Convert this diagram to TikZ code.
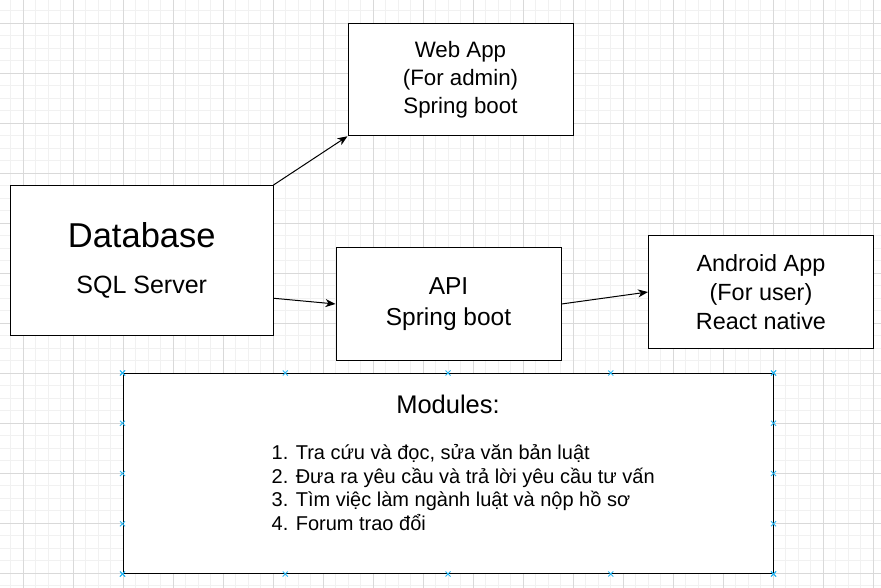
\documentclass[tikz,border=0pt]{standalone}
\usepackage{fontspec}
\setmainfont{Liberation Sans}
\usetikzlibrary{arrows.meta,calc}
\definecolor{gridminor}{HTML}{F1F1F1}
\definecolor{gridmajor}{HTML}{D9D9D9}
\definecolor{pinblue}{HTML}{29B6F2}
\tikzstyle{block}=[draw=black, fill=white, line width=1pt, inner sep=0pt, align=center]
\tikzstyle{appbox} = [block, minimum width=225pt, minimum height=112pt]
\tikzstyle{dbbox} = [block, minimum width=262.5pt, minimum height=150pt]
\tikzstyle{modbox} = [block, minimum width=650pt, minimum height=200pt]
\tikzstyle{line} = [draw, line width=1pt, -{Stealth[length=10pt,width=8pt,inset=3pt]}]
\tikzstyle{pin} = [draw=pinblue, line width=0.9pt]

\begin{document}
\begin{tikzpicture}[x=1pt,y=-1pt]
  \useasboundingbox (0,0) rectangle (881,588);
  \fill[white] (0,0) rectangle (881,588);

  % grid
  \foreach \g in {10.5,23,...,880} \draw[gridminor] (\g,0) -- (\g,588);
  \foreach \g in {10.5,23,...,587} \draw[gridminor] (0,\g) -- (881,\g);
  \foreach \g in {23,73,...,880} \draw[gridmajor] (\g,0) -- (\g,588);
  \foreach \g in {23,73,...,587} \draw[gridmajor] (0,\g) -- (881,\g);

  \path (141.75,260.5) node (db) [dbbox, font=\fontsize{25}{45}\selectfont]
    {{\fontsize{34.5}{45}\selectfont Database}\\[1pt]SQL Server};
  \path (460.5,79.75) node (web) [appbox, font=\fontsize{22.3}{26.2}\selectfont]
    {Web App\\[1.5pt](For admin)\\[1.5pt]Spring boot};
  \path (448.5,304) node (api) [appbox, font=\fontsize{24.5}{28.4}\selectfont]
    {\rule{0pt}{4pt}API\\[2pt]Spring boot};
  \path (api.east)+(199.5,-12) node (android) [appbox, font=\fontsize{23.4}{27.8}\selectfont]
    {Android App\\[1.5pt](For user)\\[1.5pt]React native};
  \path (448,473.5) node (mods) [modbox] {};

  \path (mods.north)+(0,40) node (modtitle) [anchor=base, font=\fontsize{25.5}{30}\selectfont] {Modules:};
  \path (mods.north west)+(149,157.5) node (modlist) [anchor=base west, align=left, inner sep=0pt,
    font=\fontsize{20}{23.6}\selectfont]
    {1. Tra cứu và đọc, sửa văn bản luật\\2. Đưa ra yêu cầu và trả lời yêu cầu tư vấn\\3. Tìm việc làm ngành luật và nộp hồ sơ\\4. Forum trao đổi};

  \path [line] (db.north east) -- (web.south west);
  \path [line] ($(db.north east)!0.75!(db.south east)$) -- (api.west);
  \path [line] (api.east) -- (android.west);

  % selection handles
  \foreach \t in {0,0.25,0.5,0.75,1} {
    \foreach \a/\b in {north west/north east, south west/south east, north west/south west, north east/south east} {
      \coordinate (h) at ($(mods.\a)!\t!(mods.\b)$);
      \draw[pin] ($(h)+(-2.5,-2.5)$) -- ($(h)+(2.5,2.5)$) ($(h)+(-2.5,2.5)$) -- ($(h)+(2.5,-2.5)$);
    }
  }
\end{tikzpicture}
\end{document}
